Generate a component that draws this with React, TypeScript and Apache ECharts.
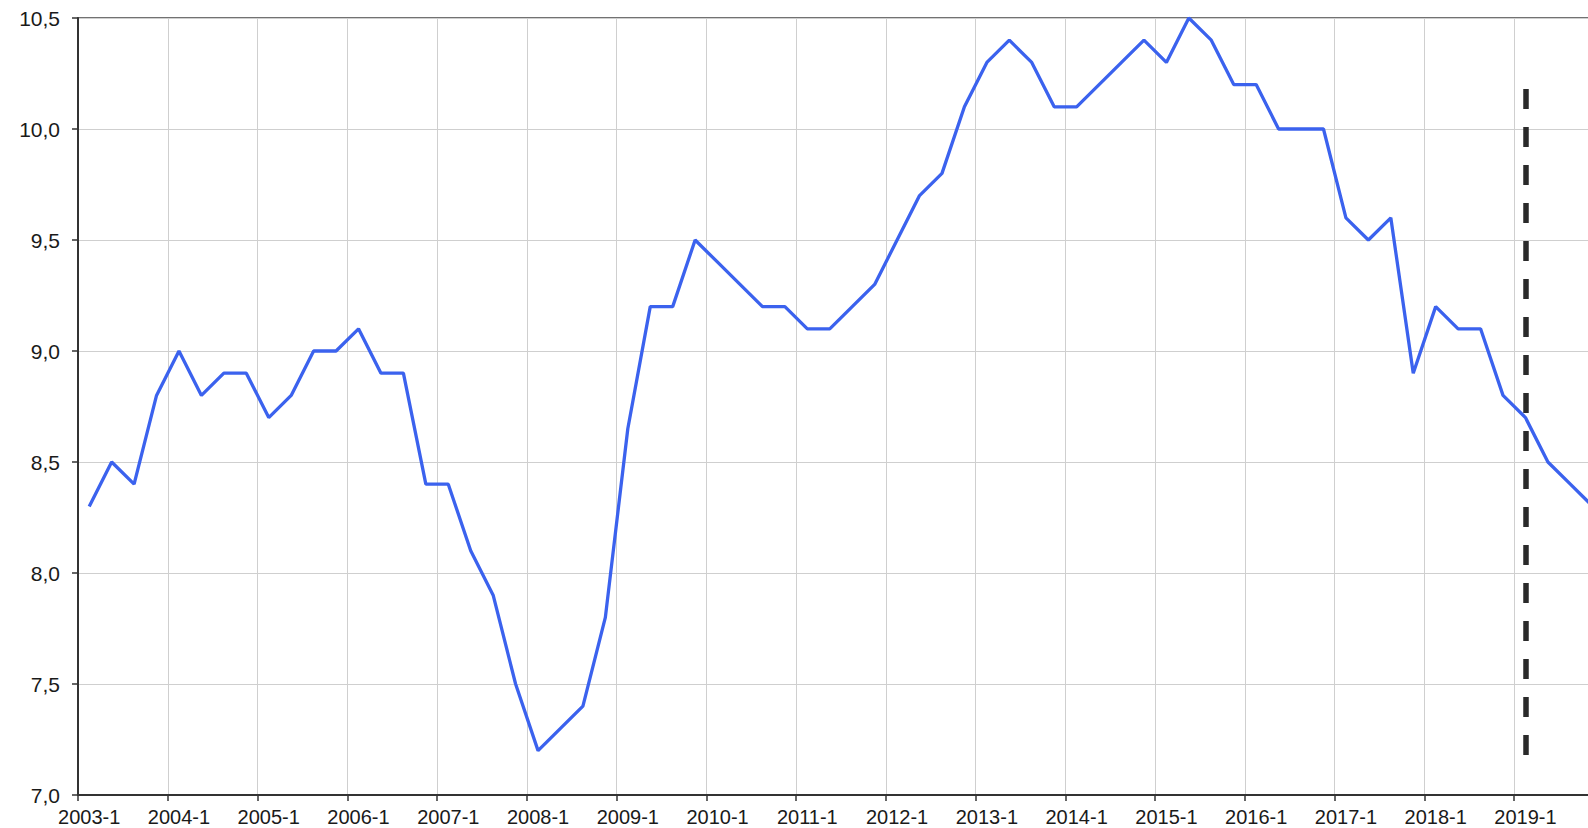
import React, { useEffect, useRef } from "react";
import * as echarts from "echarts";

const years = [2003, 2004, 2005, 2006, 2007, 2008, 2009, 2010, 2011, 2012, 2013, 2014, 2015, 2016, 2017, 2018, 2019];
const quarters = [1, 2, 3, 4];
const categories: string[] = [];
years.forEach((y) => quarters.forEach((q) => categories.push(`${y}-${q}`)));

const values = [
  8.3, 8.5, 8.4, 8.8,
  9.0, 8.8, 8.9, 8.9,
  8.7, 8.8, 9.0, 9.0,
  9.1, 8.9, 8.9, 8.4,
  8.4, 8.1, 7.9, 7.5,
  7.2, 7.3, 7.4, 7.8,
  8.65, 9.2, 9.2, 9.5,
  9.4, 9.3, 9.2, 9.2,
  9.1, 9.1, 9.2, 9.3,
  9.5, 9.7, 9.8, 10.1,
  10.3, 10.4, 10.3, 10.1,
  10.1, 10.2, 10.3, 10.4,
  10.3, 10.5, 10.4, 10.2,
  10.2, 10.0, 10.0, 10.0,
  9.6, 9.5, 9.6, 8.9,
  9.2, 9.1, 9.1, 8.8,
  8.7, 8.5, 8.4, 8.3,
];

const markerCategory = "2019-1";
const markerRange = [10.18, 7.15];

export default function App() {
  const ref = useRef<HTMLDivElement>(null);
  useEffect(() => {
    if (!ref.current) return;
    const chart = echarts.init(ref.current, undefined, { renderer: "svg" });
    chart.setOption({
      animation: false,
      backgroundColor: "#ffffff",
      grid: {
        left: 78,
        top: 18,
        right: 16,
        bottom: 33,
        show: true,
        borderColor: "#444",
        borderWidth: 1.5,
      },
      xAxis: {
        type: "category",
        data: categories,
        boundaryGap: true,
        axisLine: { show: true, lineStyle: { color: "#333", width: 2 } },
        axisTick: { show: true, interval: 3, length: 6, lineStyle: { color: "#333", width: 1.5 } },
        axisLabel: {
          interval: 3,
          margin: 12,
          color: "#1a1a1a",
          fontSize: 20,
          fontFamily: "Liberation Sans, Arial, sans-serif",
        },
        splitLine: { show: true, interval: 3, lineStyle: { color: "#cfcfcf", width: 1 } },
      },
      yAxis: {
        type: "value",
        min: 7,
        max: 10.5,
        interval: 0.5,
        axisLine: { show: true, lineStyle: { color: "#333", width: 2 } },
        axisTick: { show: true, length: 6, lineStyle: { color: "#333", width: 1.5 } },
        axisLabel: {
          margin: 18,
          color: "#1a1a1a",
          fontSize: 21,
          fontFamily: "Liberation Sans, Arial, sans-serif",
          formatter: (v: number) => v.toFixed(1).replace(".", ","),
        },
        splitLine: { show: true, lineStyle: { color: "#cfcfcf", width: 1 } },
      },
      series: [
        {
          type: "line",
          data: values,
          showSymbol: false,
          symbol: "none",
          lineStyle: { color: "#3b62ee", width: 3.3 },
          itemStyle: { color: "#3b62ee" },
          z: 3,
          markLine: {
            silent: true,
            symbol: ["none", "none"],
            label: { show: false },
            lineStyle: { color: "#2a2a2a", width: 5.5, type: [20, 18] },
            data: [
              [
                { coord: [markerCategory, markerRange[0]] },
                { coord: [markerCategory, markerRange[1]] },
              ],
            ],
          },
        },
      ],
    });
    return () => chart.dispose();
  }, []);
  return (
    <div
      style={{
        position: "fixed",
        left: 0,
        top: 0,
        width: 1588,
        height: 828,
        overflow: "hidden",
        background: "#fff",
      }}
    >
      <div ref={ref} style={{ width: 1620, height: 828 }} />
    </div>
  );
}
